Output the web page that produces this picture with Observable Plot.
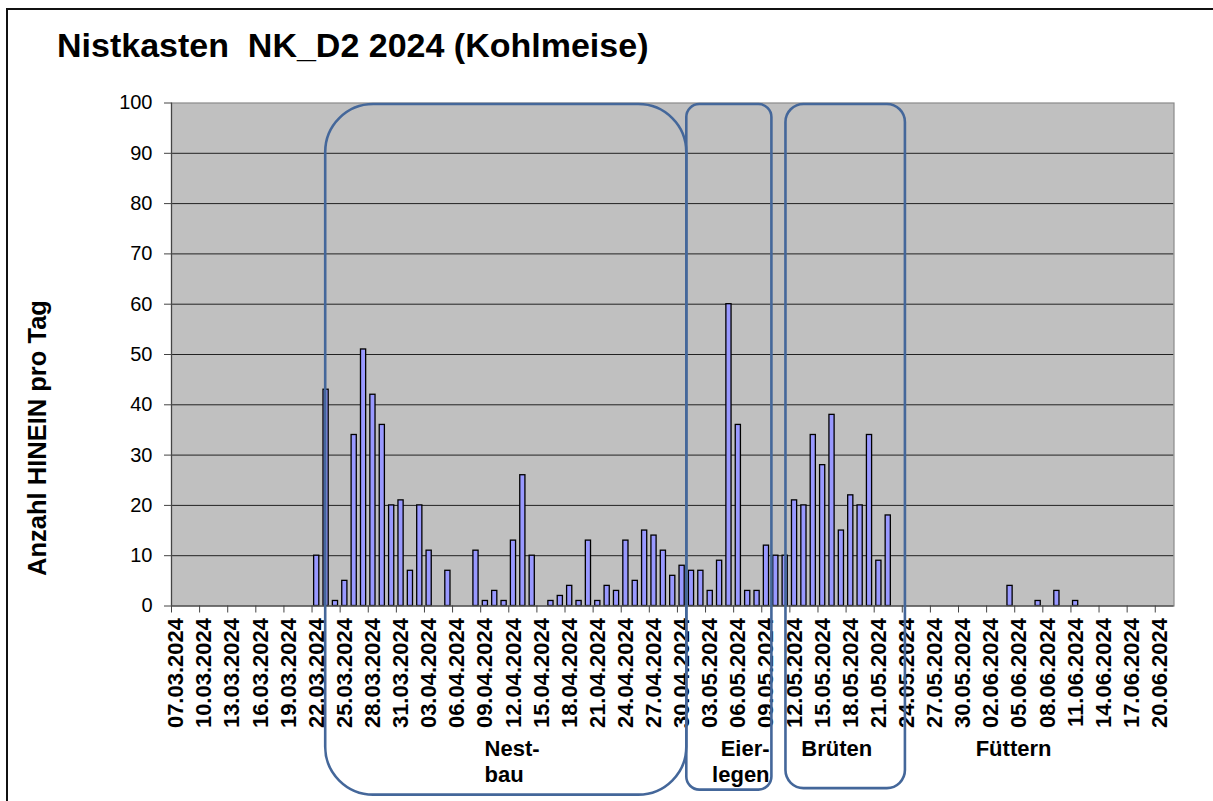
<!DOCTYPE html>
<html><head><meta charset="utf-8">
<script src="https://cdn.jsdelivr.net/npm/d3@7"></script>
<script src="https://cdn.jsdelivr.net/npm/@observablehq/plot@0.6"></script>
<style>
body{margin:0;background:#fff;font-family:"Liberation Sans",Arial,sans-serif;}
#wrap{position:relative;width:1213px;height:801px;overflow:hidden;background:#fff;}
#border{position:absolute;left:6px;top:8px;right:-5px;bottom:-5px;border-top:2px solid #111;border-left:2px solid #111;}
#title{position:absolute;left:57px;top:28px;font:bold 34px "Liberation Sans",Arial,sans-serif;line-height:34px;white-space:pre;color:#000;}
#chart{position:absolute;left:0;top:0;}
</style></head><body>
<div id="wrap"><div id="border"></div><div id="chart"></div><div id="title">Nistkasten  NK_D2 2024 (Kohlmeise)</div></div>
<script>
// ---- data ----
const firstDay = "2024-03-07";
const dayAfterLast = "2024-06-22";
// Anzahl HINEIN pro Tag, one value per day from 07.03.2024 to 21.06.2024
const dailyCounts = [
  0,0,0,0,0,0,0,0,0,0,0,0,0,0,0,
  10,43,1,5,34,51,42,36,20,21,7,20,11,
  0,7,0,0,
  11,1,3,1,13,26,10,0,
  1,2,4,1,13,1,4,3,
  13,5,15,14,11,6,8,7,
  7,3,9,60,36,3,3,12,
  10,10,21,20,34,28,38,15,
  22,20,34,9,18,
  0,0,0,0,0,0,0,0,0,0,0,0,
  4,0,0,1,0,3,0,1,
  0,0,0,0,0,0,0,0,0,0
];
const tickLabels = ["07.03.2024","10.03.2024","13.03.2024","16.03.2024","19.03.2024","22.03.2024","25.03.2024","28.03.2024","31.03.2024","03.04.2024","06.04.2024","09.04.2024","12.04.2024","15.04.2024","18.04.2024","21.04.2024","24.04.2024","27.04.2024","30.04.2024","03.05.2024","06.05.2024","09.05.2024","12.05.2024","15.05.2024","18.05.2024","21.05.2024","24.05.2024","27.05.2024","30.05.2024","02.06.2024","05.06.2024","08.06.2024","11.06.2024","14.06.2024","17.06.2024","20.06.2024"];
const yTicks = [0,10,20,30,40,50,60,70,80,90,100];
const yTitle = "Anzahl HINEIN pro Tag";
const phaseNames = ["Nest-\nbau","Eier-\nlegen","Brüten","Füttern"];
const phaseStart = ["2024-03-23T11:00Z","2024-05-01T00:00Z","2024-05-11T14:00Z",null];
const phaseEnd   = ["2024-05-01T00:00Z","2024-05-10T02:00Z","2024-05-24T08:00Z",null];
const phaseLabelAt = ["2024-04-09T10:00Z","2024-05-09T20:00Z","2024-05-17T00:00Z","2024-06-04T21:00Z"];

// ---- styles (not data) ----
const boxStyle = [
  {bottom:-37.6, rx:48},
  {bottom:-36.6, rx:13},
  {bottom:-36.3, rx:18}
];
const labelAnchor = ["start","end","middle","middle"];
const boxColor = "#44679a";

const parseTick = d3.utcParse("%d.%m.%Y");
const days = d3.utcDay.range(new Date(firstDay), new Date(dayAfterLast));
const data = days.map((d,i)=>({date:d, count:dailyCounts[i]})).filter(d=>d.count>0);
const tickDates = tickLabels.map(parseTick);

const marks = [
  Plot.frame({fill:"#c0c0c0", stroke:null}),
  Plot.gridY(yTicks.filter(v=>v>0 && v<100), {stroke:"#222", strokeOpacity:1, strokeWidth:1}),
  Plot.rectY(data, {x1:d=>d.date, x2:d=>d3.utcDay.offset(d.date,1), y:"count", insetLeft:2.1, insetRight:2.1, fill:"#9999ff", stroke:"#000", strokeWidth:1.3}),
  Plot.frame({stroke:"#8a8a8a", strokeWidth:1.2}),
  Plot.ruleY([0], {stroke:"#333", strokeWidth:1.2}),
  Plot.ruleX([new Date(firstDay)], {stroke:"#444", strokeWidth:1.2}),
  Plot.axisY({ticks:yTicks, tickSize:7, tickPadding:12, fontSize:20, label:null, stroke:"#444", fill:"#000"}),
  Plot.axisX({ticks:tickDates, tickSize:7, tickFormat:()=>"", label:null, stroke:"#444"}),
  Plot.text(tickLabels, {x:d=>d3.utcHour.offset(parseTick(d),12), text:d=>d, frameAnchor:"bottom", rotate:-90, textAnchor:"end", lineAnchor:"middle", dy:12, fontSize:22, fontWeight:"bold", fill:"#000"}),
  Plot.text([yTitle], {text:d=>d, frameAnchor:"left", dx:-134, dy:83.5, rotate:-90, textAnchor:"middle", lineAnchor:"middle", fontSize:25.5, fontWeight:"bold", fill:"#000"})
];
phaseNames.forEach((name,i)=>{
  if (phaseStart[i]) {
    marks.push(Plot.rect([i], {x1:()=>new Date(phaseStart[i]), x2:()=>new Date(phaseEnd[i]), y1:boxStyle[i].bottom, y2:99.7, rx:boxStyle[i].rx, fill:"none", stroke:boxColor, strokeWidth:2.6}));
  }
  marks.push(Plot.text([name], {x:()=>new Date(phaseLabelAt[i]), y:-26.3, text:d=>d, textAnchor:labelAnchor[i], lineAnchor:"top", lineHeight:1.15, fontSize:22, fontWeight:"bold", fill:"#000"}));
});

const chart = Plot.plot({
  width:1213, height:801,
  marginLeft:171, marginRight:39.5, marginTop:102.5, marginBottom:195.5,
  x:{type:"utc", domain:[new Date(firstDay), new Date(dayAfterLast)]},
  y:{domain:[0,100]},
  style:{fontFamily:"Liberation Sans, Arial, sans-serif", background:"transparent", overflow:"visible"},
  marks
});
document.getElementById("chart").appendChild(chart);
</script>
</body></html>
